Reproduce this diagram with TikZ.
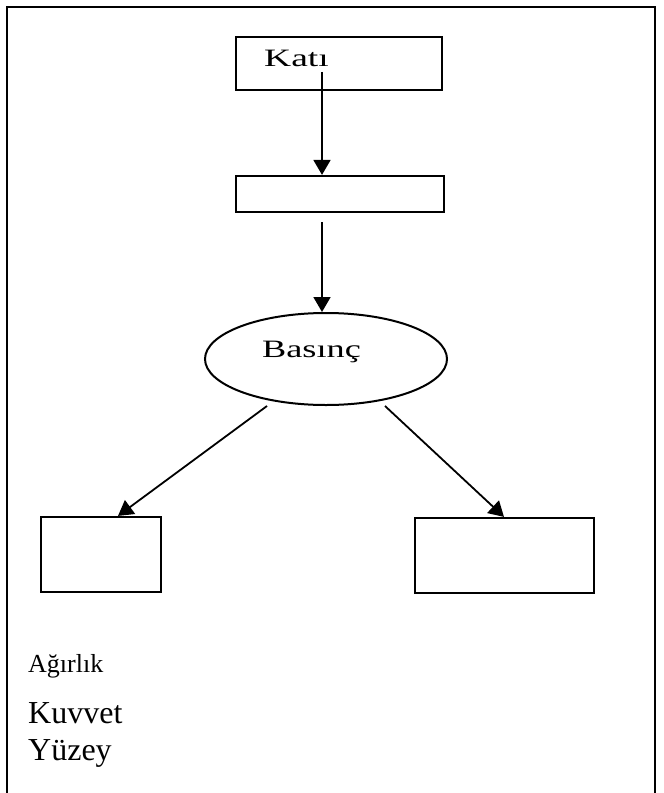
\documentclass[tikz,border=0pt]{standalone}
\usepackage{fontspec}
\setmainfont{Liberation Serif}
\usetikzlibrary{shapes.geometric,arrows.meta}
\begin{document}
\begin{tikzpicture}[x=1bp,y=-1bp,
  box/.style={draw,line width=2.2bp,inner sep=0,rectangle},
  oval/.style={draw,line width=2bp,inner sep=0,ellipse},
  arr/.style={line width=1.8bp,-{Triangle[length=15bp,width=17bp]}},
  frame/.style={line width=2.2bp},
  lbl/.style={inner sep=0,anchor=base west},
  wide/.style={inner sep=0,anchor=base west,font=\fontsize{25bp}{29bp}\selectfont}]
\useasboundingbox (0,0) rectangle (664,793);
% frame
\coordinate (f1) at (7,793);
\coordinate (f2) at (7,7);
\coordinate (f3) at (655,7);
\coordinate (f4) at (655,793);
\draw[frame] (f1) -- (f2) -- (f3) -- (f4);
% boxes
\node[box,minimum width=206bp,minimum height=53bp] (kati) at (339,63.5) {};
\node[wide] (katitext) at (264,67) {\scalebox{1.5}[1]{Katı}};
\node[box,minimum width=208bp,minimum height=36bp] (box2) at (340,194) {};
\node[oval,minimum width=242bp,minimum height=92bp] (basinc) at (326,359) {};
\node[wide] (basinctext) at (262,357) {\scalebox{1.45}[1]{Basınç}};
\node[box,minimum width=120bp,minimum height=75bp] (left) at (101,554.5) {};
\node[box,minimum width=179bp,minimum height=75bp] (right) at (504.5,555.5) {};
% arrows
\coordinate (a1s) at (322,72);
\coordinate (a2s) at (322,222);
\coordinate (a3s) at (267,406);
\coordinate (a4s) at (385,406);
\draw[arr] (a1s) -- (a1s |- box2.north);
\draw[arr] (a2s) -- (a2s |- basinc.north);
\draw[arr] (a3s) -- ([xshift=17bp]left.north);
\draw[arr] (a4s) -- ([xshift=-0.5bp]right.north);
% texts
\node[lbl,font=\fontsize{26bp}{30bp}\selectfont] (agirlik) at (28,672) {Ağırlık};
\node[lbl,font=\fontsize{32bp}{36bp}\selectfont] (kuvvet) at (28,723) {Kuvvet};
\node[lbl,font=\fontsize{32bp}{36bp}\selectfont] (yuzey) at (28,760) {Yüzey};
\end{tikzpicture}
\end{document}
